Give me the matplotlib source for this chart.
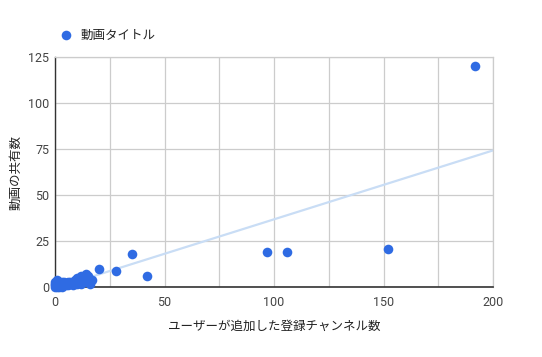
import numpy as np
import matplotlib
matplotlib.use("Agg")
import matplotlib.pyplot as plt
from matplotlib.ticker import MultipleLocator

plt.rcParams['font.family'] = ['Roboto', 'Noto Sans CJK JP', 'DejaVu Sans']

series_name = "動画タイトル"
x_label = "ユーザーが追加した登録チャンネル数"
y_label = "動画の共有数"

# main scattered points
x_main = [192, 152, 106, 97, 42, 35, 28, 20, 17, 14]
y_main = [120, 21, 19, 19, 6, 18, 9, 10, 4, 7]
# dense cluster near origin
x_cluster = [0, 0, 0, 0, 1, 1, 1, 1, 2, 2, 2, 2, 3, 3, 3, 3, 4, 4, 4, 5, 5, 6, 6, 6,
             7, 7, 8, 8, 8, 9, 9, 10, 10, 10, 11, 11, 12, 12, 13, 13, 15, 16, 12, 15]
y_cluster = [0, 1, 2, 3, 0, 1, 2, 4, 0, 1, 2, 3, 0, 1, 2, 3, 1, 2, 3, 1, 2, 1, 2, 3,
             2, 3, 1, 2, 3, 3, 4, 2, 4, 5, 3, 5, 2, 4, 5, 3, 3, 2, 6, 6]

x_ticks = [0, 50, 100, 150, 200]
y_ticks = [0, 25, 50, 75, 100, 125]

x_all = np.array(x_main + x_cluster, dtype=float)
y_all = np.array(y_main + y_cluster, dtype=float)

fig = plt.figure(figsize=(5.42, 3.57), dpi=100)
ax = fig.add_axes([0.1015, 0.1952, 0.8081, 0.6443])

dot_color = "#2f6be3"
grid_color = "#cccccc"

# trendline (linear least squares)
slope, intercept = np.polyfit(x_all, y_all, 1)
tx = np.array([0, 200])
ax.plot(tx, slope * tx + intercept, color="#c9ddf5", lw=1.6, zorder=2)

ax.scatter(x_all, y_all, s=48, color=dot_color, zorder=3, clip_on=False,
           linewidths=0, label=series_name)

ax.set_xlim(0, 200)
ax.set_ylim(0, 125)
ax.set_xticks(x_ticks)
ax.set_yticks(y_ticks)
ax.xaxis.set_minor_locator(MultipleLocator(25))
ax.grid(True, which='both', axis='x', color=grid_color, lw=0.9, zorder=0)
ax.grid(True, which='major', axis='y', color=grid_color, lw=0.9, zorder=0)
ax.set_axisbelow(True)

for s in ['top', 'right']:
    ax.spines[s].set_color(grid_color)
    ax.spines[s].set_linewidth(0.9)
ax.spines['left'].set_color('#333333')
ax.spines['bottom'].set_color('#333333')
ax.spines['left'].set_linewidth(1.0)
ax.spines['bottom'].set_linewidth(1.2)

ax.tick_params(axis='both', which='both', length=0, labelsize=9, colors='#444444', pad=4)
ax.tick_params(axis='x', pad=6)

ax.set_xlabel(x_label, fontsize=9, color='#222222', labelpad=8,
              family=['Noto Sans CJK JP', 'DejaVu Sans'])
ax.set_ylabel(y_label, fontsize=9, color='#222222', labelpad=4,
              family=['Noto Sans CJK JP', 'DejaVu Sans'])

leg = ax.legend(loc='lower left', bbox_to_anchor=(0.0, 1.047), frameon=False,
                handletextpad=0.6, borderaxespad=0, handlelength=1.0,
                prop={'family': ['Noto Sans CJK JP', 'DejaVu Sans'], 'size': 9})
for t in leg.get_texts():
    t.set_color('#222222')

fig.savefig("out.png", dpi=100)
